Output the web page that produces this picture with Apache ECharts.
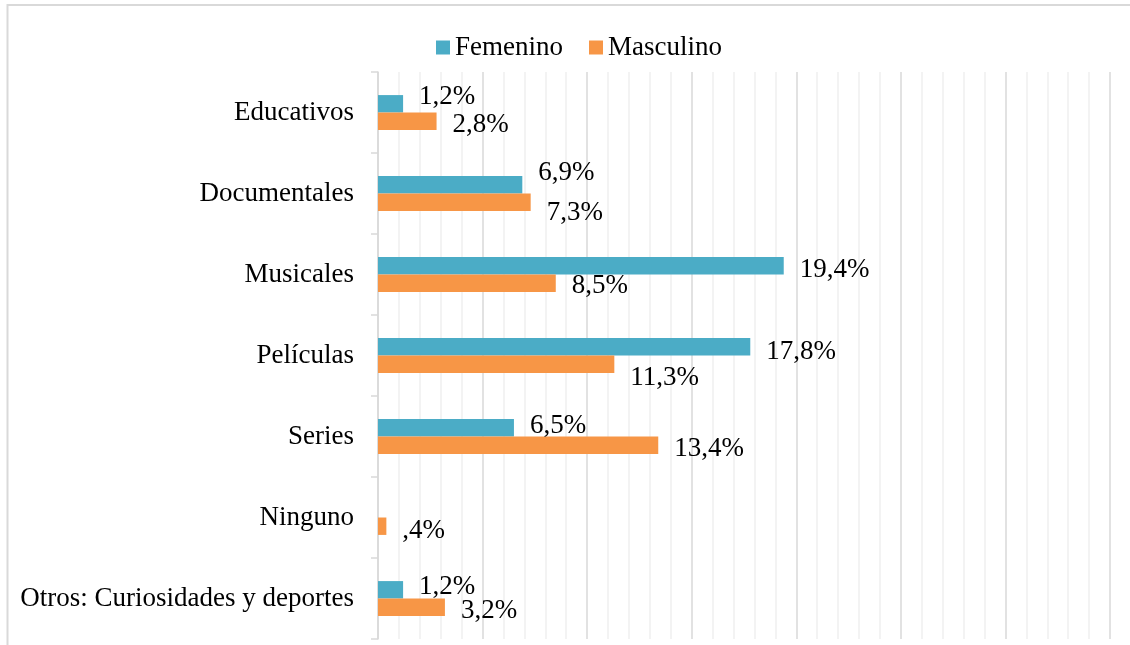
<!DOCTYPE html>
<html>
<head>
<meta charset="utf-8">
<script src="https://cdn.jsdelivr.net/npm/echarts@6/dist/echarts.min.js"></script>
<style>
  html, body { margin: 0; padding: 0; background: #ffffff; }
  #chart { width: 1130px; height: 645px; }
</style>
</head>
<body>
<div id="chart"></div>
<script>
// Tipos de programas preferidos, por sexo (%)
const categories = [
  'Educativos',
  'Documentales',
  'Musicales',
  'Películas',
  'Series',
  'Ninguno',
  'Otros: Curiosidades y deportes'
];
const femenino  = [1.2, 6.9, 19.4, 17.8, 6.5, null, 1.2];
const masculino = [2.8, 7.3, 8.5, 11.3, 13.4, 0.4, 3.2];
const axisMax = 35;
const axisStep = 5;

// Vertical nudge of each value label, so neighbouring labels don't collide
const femLabelNudge  = [-7, -12, 4, 5, -2, 0, -3];
const mascLabelNudge = [4, 11, 3, 14, 4, 5, 4];

const FONT = '"Liberation Serif", "Times New Roman", serif';
const FONT_SIZE = 27;

function fmt(v) {
  // 0.4 -> ",4%"   12.3 -> "12,3%"
  let s = v.toFixed(1).replace('.', ',');
  if (s.startsWith('0,')) s = s.slice(1);
  return s + '%';
}

function buildData(values, nudges) {
  return values.map((v, i) => v == null ? '-' : ({
    value: v,
    label: { offset: [0, nudges[i]] }
  }));
}

const chart = echarts.init(document.getElementById('chart'), null, { renderer: 'canvas' });

const labelStyle = {
  show: true,
  position: 'right',
  distance: 16,
  color: '#000000',
  fontFamily: FONT,
  fontSize: FONT_SIZE,
  formatter: p => fmt(p.value)
};

chart.setOption({
  animation: false,
  backgroundColor: '#ffffff',
  textStyle: { fontFamily: FONT },
  graphic: [{
    type: 'rect',
    shape: { x: 7.5, y: 5, width: 1140, height: 700 },
    style: { fill: 'none', stroke: '#d9d9d9', lineWidth: 2 },
    silent: true,
    z: -10
  }],
  legend: {
    left: 431,
    top: 29,
    itemWidth: 14,
    itemHeight: 14,
    itemGap: 26,
    icon: 'rect',
    textStyle: { fontFamily: FONT, fontSize: FONT_SIZE, color: '#000000', padding: [0, 0, 0, 0] },
    data: ['Femenino', 'Masculino']
  },
  grid: { left: 378, right: 20, top: 72, bottom: 6, containLabel: false },
  xAxis: {
    type: 'value',
    min: 0,
    max: axisMax,
    interval: axisStep,
    axisLabel: { show: false },
    axisLine: { show: false },
    axisTick: { show: false },
    splitLine: { show: true, lineStyle: { color: '#d9d9d9', width: 1.5 } },
    minorTick: { show: false, splitNumber: 5 },
    minorSplitLine: { show: true, lineStyle: { color: '#f0f0f0', width: 1.5 } }
  },
  yAxis: {
    type: 'category',
    data: categories,
    inverse: true,
    axisLine: { show: true, lineStyle: { color: '#d9d9d9', width: 1.5 } },
    axisTick: { show: true, length: 7, inside: false, lineStyle: { color: '#d9d9d9', width: 1.5 } },
    axisLabel: { margin: 24, color: '#000000', fontFamily: FONT, fontSize: FONT_SIZE, padding: [4, 0, 0, 0] },
    splitLine: { show: false }
  },
  series: [
    {
      name: 'Femenino',
      type: 'bar',
      data: buildData(femenino, femLabelNudge),
      itemStyle: { color: '#4BACC6' },
      barGap: '0%',
      barCategoryGap: '57%',
      label: labelStyle
    },
    {
      name: 'Masculino',
      type: 'bar',
      data: buildData(masculino, mascLabelNudge),
      itemStyle: { color: '#F79646' },
      barGap: '0%',
      barCategoryGap: '57%',
      label: labelStyle
    }
  ]
});
</script>
</body>
</html>
